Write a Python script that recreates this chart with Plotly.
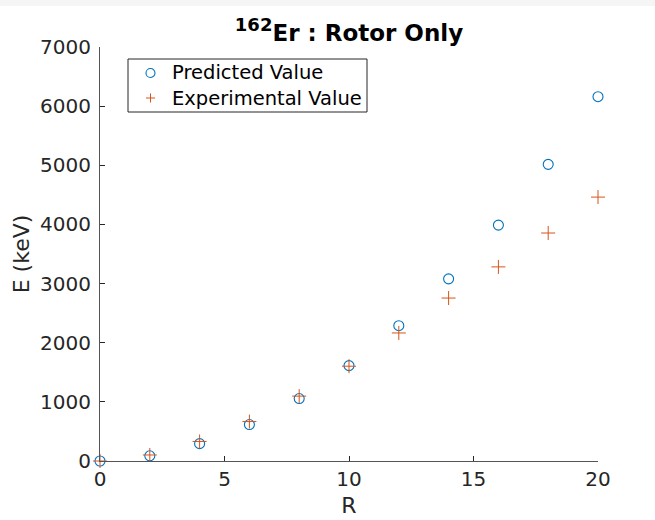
import plotly.graph_objects as go

# Angular momentum R and level energies (keV) for 162Er ground-state band
spin = [0, 2, 4, 6, 8, 10, 12, 14, 16, 18, 20]
predicted = [0, 88, 293, 616, 1056, 1613, 2288, 3080, 3989, 5016, 6160]
experimental = [0, 102, 330, 667, 1097, 1603, 2165, 2755, 3282, 3855, 4462]

series_names = ["Predicted Value", "Experimental Value"]
x_ticks = [0, 5, 10, 15, 20]
y_ticks = [0, 1000, 2000, 3000, 4000, 5000, 6000, 7000]

BLUE = "#0072BD"
ORANGE = "#D95319"
AX = "#262626"
FONT = "DejaVu Sans"

fig = go.Figure()
fig.add_trace(go.Scatter(
    x=spin, y=predicted, mode="markers", name=series_names[0],
    marker=dict(symbol="circle-open", size=10, color=BLUE, line=dict(width=1.1, color=BLUE)),
    cliponaxis=False, showlegend=False,
))
fig.add_trace(go.Scatter(
    x=spin, y=experimental, mode="markers", name=series_names[1],
    marker=dict(symbol="cross-thin-open", size=10, color=ORANGE, line=dict(width=1, color=ORANGE)),
    cliponaxis=False, showlegend=False,
))

L, R_, T, B = 100, 57, 47, 59
W, H = 655, 520
pw, ph = W - L - R_, H - T - B

def px_x(p):
    return (p - L) / pw

def px_y(p):
    return (H - B - p) / ph

# light gray frame along the top and left edges of the figure
fig.add_shape(type="rect", xref="paper", yref="paper",
              x0=px_x(-5), x1=px_x(W + 5), y0=px_y(H + 5), y1=px_y(6),
              fillcolor="white", line=dict(width=0), layer="below")

# legend box in the upper-left corner of the axes
fig.add_shape(type="rect", xref="paper", yref="paper",
              x0=px_x(128), x1=px_x(367), y0=px_y(112), y1=px_y(59),
              fillcolor="white", line=dict(color=AX, width=1))
row_y = [73, 98]
# legend glyphs: open circle, then thin plus
fig.add_shape(type="circle", xref="paper", yref="paper",
              x0=px_x(146), x1=px_x(155), y0=px_y(row_y[0] + 4.5), y1=px_y(row_y[0] - 4.5),
              line=dict(color=BLUE, width=1.1))
fig.add_shape(type="line", xref="paper", yref="paper",
              x0=px_x(146), x1=px_x(155), y0=px_y(row_y[1]), y1=px_y(row_y[1]),
              line=dict(color=ORANGE, width=1))
fig.add_shape(type="line", xref="paper", yref="paper",
              x0=px_x(150.5), x1=px_x(150.5), y0=px_y(row_y[1] - 4.5), y1=px_y(row_y[1] + 4.5),
              line=dict(color=ORANGE, width=1))
for name, ry in zip(series_names, row_y):
    fig.add_annotation(text=name, xref="paper", yref="paper", x=px_x(170), y=px_y(ry),
                       xanchor="left", yanchor="middle", showarrow=False,
                       font=dict(size=19.5, color="black", family=FONT))

title_text = ("<b><sup><span style='font-size:18px'>162</span></sup>"
              "Er : Rotor Only</b>")

fig.update_layout(
    width=W, height=H,
    margin=dict(l=L, r=R_, t=T, b=B),
    paper_bgcolor="#f5f5f5", plot_bgcolor="white",
    font=dict(family=FONT, color=AX),
    title=dict(text=title_text, x=px_x(349), xanchor="center",
               y=1 - 33 / H, yanchor="middle", yref="container", xref="paper",
               font=dict(size=23, color="black", family=FONT)),
    showlegend=False,
    xaxis=dict(range=[0, 20], tickvals=x_ticks, ticks="inside", ticklen=5,
               tickcolor=AX, showline=True, linecolor="#555555", linewidth=1,
               showgrid=False, zeroline=False, tickfont=dict(size=20, color=AX),
               automargin=False,
               title=dict(text="R", font=dict(size=22, color=AX), standoff=7)),
    yaxis=dict(range=[0, 7000], tickvals=y_ticks, ticks="inside", ticklen=5,
               tickcolor=AX, showline=True, linecolor="#555555", linewidth=1,
               showgrid=False, zeroline=False, tickfont=dict(size=20, color=AX),
               ticklabelstandoff=4, automargin=False,
               title=dict(text="E (keV)", font=dict(size=22, color=AX), standoff=4)),
)

fig.write_html("out.html")
